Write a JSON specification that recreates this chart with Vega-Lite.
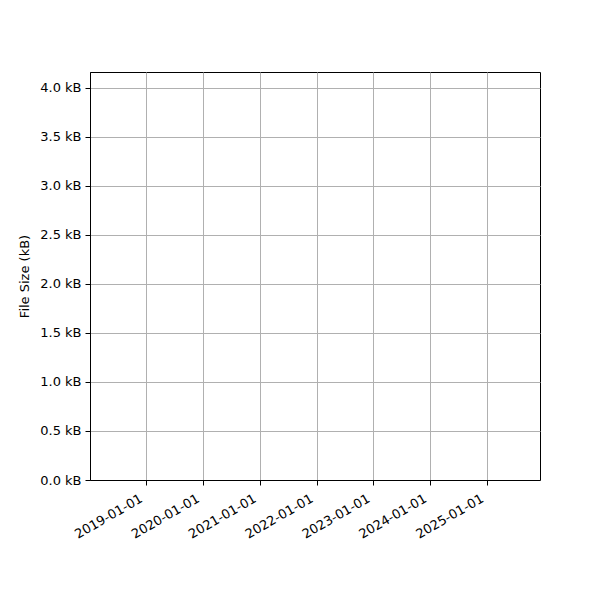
{
  "$schema": "https://vega.github.io/schema/vega-lite/v6.json",
  "width": 450,
  "height": 408,
  "autosize": {"type": "none"},
  "padding": {"left": 90, "top": 72, "right": 60, "bottom": 120},
  "background": "white",
  "data": {"values": []},
  "mark": {"type": "line", "color": "#1f77b4"},
  "encoding": {
    "x": {
      "field": "date",
      "type": "temporal",
      "scale": {
        "type": "utc",
        "domain": [
          {"year": 2018, "month": 1, "date": 6, "utc": true},
          {"year": 2025, "month": 12, "date": 7, "utc": true}
        ]
      },
      "axis": {
        "title": null,
        "grid": true,
        "values": [
          {"year": 2019, "month": 1, "date": 1, "utc": true},
          {"year": 2020, "month": 1, "date": 1, "utc": true},
          {"year": 2021, "month": 1, "date": 1, "utc": true},
          {"year": 2022, "month": 1, "date": 1, "utc": true},
          {"year": 2023, "month": 1, "date": 1, "utc": true},
          {"year": 2024, "month": 1, "date": 1, "utc": true},
          {"year": 2025, "month": 1, "date": 1, "utc": true}
        ],
        "labelExpr": "utcFormat(datum.value, '%Y-%m-%d')",
        "labelAngle": -30,
        "labelAlign": "right",
        "labelBaseline": "top",
        "labelPadding": 7,
        "labelOffset": -8
      }
    },
    "y": {
      "field": "size_kB",
      "type": "quantitative",
      "scale": {"domain": [0, 4.163], "nice": false, "zero": true},
      "axis": {
        "title": "File Size (kB)",
        "grid": true,
        "values": [0, 0.5, 1, 1.5, 2, 2.5, 3, 3.5, 4],
        "labelExpr": "format(datum.value, '.1f') + ' kB'",
        "titlePadding": 8
      }
    }
  },
  "config": {
    "font": "DejaVu Sans",
    "view": {"stroke": "#000000", "strokeWidth": 1},
    "axis": {
      "labelFont": "DejaVu Sans",
      "titleFont": "DejaVu Sans",
      "labelFontSize": 13,
      "titleFontSize": 13,
      "titleFontWeight": "normal",
      "labelColor": "#000000",
      "titleColor": "#000000",
      "domainColor": "#000000",
      "domainWidth": 1,
      "tickColor": "#000000",
      "tickSize": 5,
      "tickWidth": 1,
      "gridColor": "#b0b0b0",
      "gridWidth": 1,
      "labelPadding": 4,
      "labelFlush": false,
      "labelOverlap": false
    }
  }
}
